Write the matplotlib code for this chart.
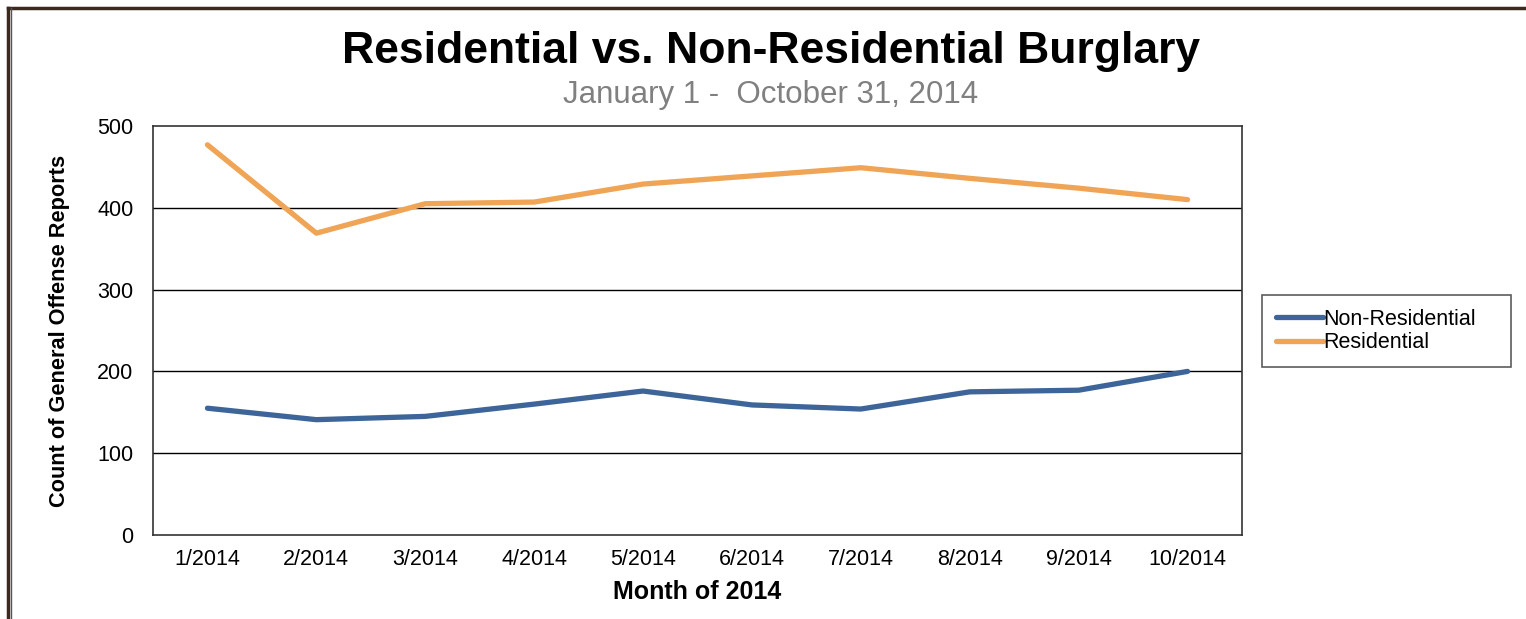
import matplotlib.pyplot as plt
from matplotlib.lines import Line2D

# Monthly counts of general offense reports, Jan-Oct 2014
months = ["1/2014", "2/2014", "3/2014", "4/2014", "5/2014",
          "6/2014", "7/2014", "8/2014", "9/2014", "10/2014"]
non_residential = [155, 141, 145, 160, 176, 159, 154, 175, 177, 200]
residential = [477, 369, 405, 407, 429, 439, 449, 436, 424, 410]

blue = "#3d6599"
orange = "#f0a456"

plt.rcParams["font.family"] = ["Liberation Sans", "DejaVu Sans"]

fig = plt.figure(figsize=(15.26, 6.19), dpi=100)
ax = fig.add_axes([153 / 1526, 1 - 535 / 619, 1089 / 1526, 409 / 619])

x = [i + 0.5 for i in range(len(months))]
ax.plot(x, non_residential, color=blue, lw=3.8, solid_capstyle="round",
        label="Non-Residential")
ax.plot(x, residential, color=orange, lw=3.8, solid_capstyle="round",
        label="Residential")

ax.set_xlim(0, len(months))
ax.set_ylim(0, 500)
ax.set_xticks(x)
ax.set_xticklabels(months)
ax.set_yticks([0, 100, 200, 300, 400, 500])
ax.tick_params(length=0, labelsize=15.5, pad=10)
ax.tick_params(axis="y", pad=14)
for y in [100, 200, 300, 400]:
    ax.axhline(y, color="black", lw=1, zorder=0)
for s in ax.spines.values():
    s.set_color("#333333")
    s.set_linewidth(1.2)

ax.set_xlabel("Month of 2014", fontsize=18, fontweight="bold", labelpad=7)
ax.set_ylabel("Count of General Offense Reports", fontsize=15.7,
              fontweight="bold", labelpad=20)

fig.text(771 / 1526, 1 - 52 / 619, "Residential vs. Non-Residential Burglary",
         ha="center", va="center", fontsize=32, fontweight="bold")
fig.text(771 / 1526, 1 - 95 / 619, "January 1 -  October 31, 2014",
         ha="center", va="center", fontsize=22.5, color="#808080")

handles = [Line2D([], [], color=blue, lw=3.8, solid_capstyle="round"),
           Line2D([], [], color=orange, lw=3.8, solid_capstyle="round")]
leg = fig.legend(handles, ["Non-Residential", "Residential"],
                 loc="upper left",
                 bbox_to_anchor=(1262 / 1526, 1 - 367 / 619, 249 / 1526, 72 / 619),
                 mode="expand", borderaxespad=0, fontsize=15.5, frameon=True,
                 fancybox=False, handlelength=2.2, handletextpad=0.0,
                 labelspacing=0.1, borderpad=0.65)
leg.get_frame().set_edgecolor("#333333")
leg.get_frame().set_linewidth(1.2)

# page frame on top and left edges
fig.add_artist(Line2D([8 / 1526, 1], [1 - 8 / 619, 1 - 8 / 619], color="#3a2a20", lw=2.5))
fig.add_artist(Line2D([8 / 1526, 8 / 1526], [0, 1 - 8 / 619], color="#3a2a20", lw=2.5))
fig.add_artist(Line2D([11 / 1526, 11 / 1526], [0, 1 - 8 / 619], color="#555555", lw=1))

fig.savefig("out.png", dpi=100)
